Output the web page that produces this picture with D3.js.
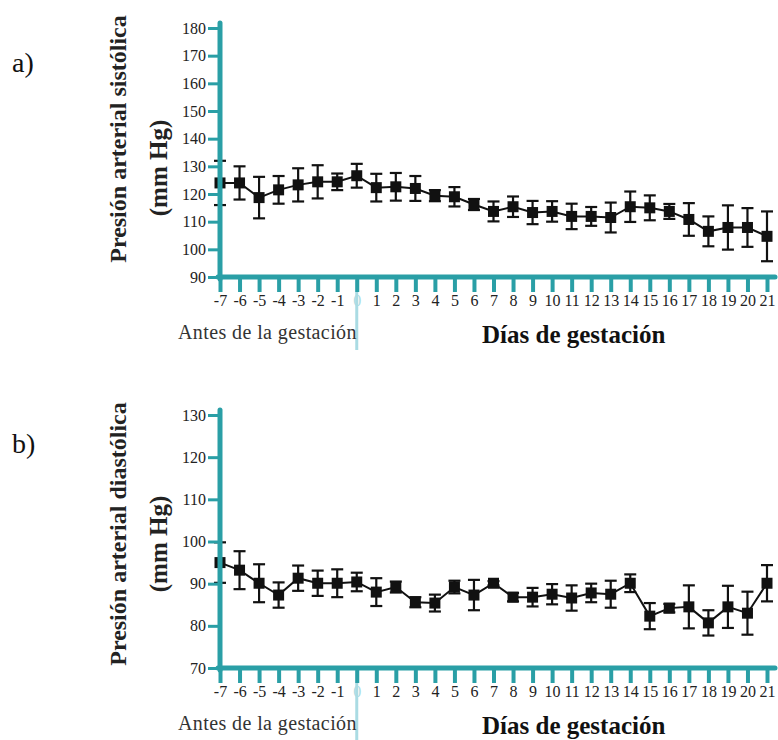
<!DOCTYPE html>
<html>
<head>
<meta charset="utf-8">
<script src="https://cdn.jsdelivr.net/npm/d3@7"></script>
<style>
  body { margin: 0; background: #fff; }
  svg text { font-family: "Liberation Serif", "DejaVu Serif", serif; }
</style>
</head>
<body>
<script>
// Days (x categories)
const days = [-7,-6,-5,-4,-3,-2,-1,0,1,2,3,4,5,6,7,8,9,10,11,12,13,14,15,16,17,18,19,20,21];

// a) systolic pressure, mean and error
const sysMean = [124,124,118.7,121.5,123.3,124.4,124.4,126.6,122.3,122.6,122,119.4,119,116.2,
                 113.7,115.4,113.3,113.7,111.9,111.9,111.5,115.4,115,113.7,110.8,106.5,107.9,107.9,104.7];
const sysErr  = [8,6,7.5,5,6,6,3,4.3,5,5,4.5,2,3.5,2,3.6,3.7,4.2,3.7,4.6,3.4,5.4,5.5,4.5,2.7,5.9,5.4,8,7,9];
const sysTicks = [90,100,110,120,130,140,150,160,170,180];

// b) diastolic pressure, mean and error
const diaMean = [95,93.2,90.1,87.3,91.3,90.1,90.1,90.4,88,89.2,85.6,85.4,89.2,87.3,
                 90.1,86.8,86.8,87.5,86.6,87.8,87.5,90.1,82.3,84.2,84.5,80.7,84.5,83,90.1];
const diaErr  = [4.8,4.5,4.5,3,3,3,3.3,2.2,3.3,1.3,1.2,2,1.5,3.6,0.5,1,2.2,2.4,3,2.2,3.2,2.1,3.1,1,5.1,3,5,5.1,4.3];
const diaTicks = [70,80,90,100,110,120,130];

const teal = "#2a9fa6";
const paleTeal = "#aadbe3";
const serif = "Liberation Serif, DejaVu Serif, serif";

const svg = d3.select("body").append("svg")
    .attr("width",778)
    .attr("height",740);

const xScale = d3.scaleLinear()
    .domain([-7,21])
    .range([220,767]);

//Draw one panel
function panel(opt){
    const g = svg.append("g");
    const yScale = d3.scaleLinear()
        .domain(d3.extent(opt.ticks))
        .range([opt.bottom, opt.top]);

    const data = days.map((d,i) => ({day:d, mean:opt.mean[i], err:opt.err[i]}));

    // pale marker line at day 0
    g.append("line")
        .attr("x1",xScale(0)).attr("x2",xScale(0))
        .attr("y1",opt.bottom+3).attr("y2",opt.bottom+73)
        .style("stroke",paleTeal)
        .style("stroke-width",3);

    // connecting line
    g.append("path")
        .datum(data)
        .attr("d",d3.line().x(d => xScale(d.day)).y(d => yScale(d.mean)))
        .style("fill","none")
        .style("stroke","#111")
        .style("stroke-width",2);

    // error bars
    const eb = g.selectAll(".eb").data(data).enter().append("g").attr("class","eb")
        .style("stroke","#111").style("stroke-width",2.2);
    eb.append("line")
        .attr("x1",d => xScale(d.day)).attr("x2",d => xScale(d.day))
        .attr("y1",d => yScale(d.mean - d.err)).attr("y2",d => yScale(d.mean + d.err));
    eb.append("line")
        .attr("x1",d => xScale(d.day)-6).attr("x2",d => xScale(d.day)+6)
        .attr("y1",d => yScale(d.mean + d.err)).attr("y2",d => yScale(d.mean + d.err));
    eb.append("line")
        .attr("x1",d => xScale(d.day)-6).attr("x2",d => xScale(d.day)+6)
        .attr("y1",d => yScale(d.mean - d.err)).attr("y2",d => yScale(d.mean - d.err));

    // square markers
    g.selectAll(".dot").data(data).enter().append("rect")
        .attr("class","dot")
        .attr("x",d => xScale(d.day)-5.5)
        .attr("y",d => yScale(d.mean)-5.5)
        .attr("width",11).attr("height",11)
        .style("fill","#111");

    // y axis ticks
    const ya = g.append("g")
        .attr("transform",`translate(220,0)`)
        .call(d3.axisLeft(yScale).tickValues(opt.ticks).tickSize(12).tickPadding(2).tickSizeOuter(0));
    ya.attr("font-family",serif).attr("font-size",16);
    ya.select(".domain").remove();
    ya.selectAll(".tick line").style("stroke",teal).style("stroke-width",3);
    ya.selectAll(".tick text").attr("fill","#222");

    // x axis ticks
    const xa = g.append("g")
        .attr("transform",`translate(0,${opt.bottom})`)
        .call(d3.axisBottom(xScale).tickValues(days).tickFormat(d => String(d))
            .tickSize(15).tickPadding(3).tickSizeOuter(0));
    xa.attr("font-family",serif).attr("font-size",16);
    xa.select(".domain").remove();
    xa.selectAll(".tick line").style("stroke",teal).style("stroke-width",4);
    xa.selectAll(".tick text").attr("fill",d => d === 0 ? paleTeal : "#222");

    // thick axis lines
    g.append("line")
        .attr("x1",220).attr("x2",220)
        .attr("y1",opt.top-5).attr("y2",opt.bottom+2)
        .style("stroke",teal).style("stroke-width",5).style("stroke-linecap","round");
    g.append("line")
        .attr("x1",218).attr("x2",775)
        .attr("y1",opt.bottom).attr("y2",opt.bottom)
        .style("stroke",teal).style("stroke-width",5).style("stroke-linecap","round");

    // y axis title
    g.append("text")
        .attr("transform",`translate(126,${opt.titleY}) rotate(-90)`)
        .style("text-anchor","middle")
        .style("font-weight","bold")
        .style("font-size","24px")
        .style("fill","#222")
        .text(opt.title);
    g.append("text")
        .attr("transform",`translate(167,${opt.unitY}) rotate(-90)`)
        .style("text-anchor","middle")
        .style("font-weight","bold")
        .style("font-size","25px")
        .style("fill","#222")
        .text("(mm Hg)");

    // panel letter
    g.append("text")
        .attr("x",12).attr("y",opt.letterY)
        .style("font-size","28px")
        .style("fill","#111")
        .text(opt.letter);

    // bottom labels
    g.append("text")
        .attr("x",178).attr("y",opt.bottom+62)
        .style("font-size","20px")
        .style("letter-spacing","0.4px")
        .style("fill","#333")
        .text("Antes de la gestación");
    g.append("text")
        .attr("x",482).attr("y",opt.bottom+66)
        .style("font-size","25px")
        .style("font-weight","bold")
        .style("fill","#111")
        .text("Días de gestación");
}

panel({mean:sysMean, err:sysErr, ticks:sysTicks, top:28, bottom:277,
       title:"Presión arterial sistólica", titleY:139, unitY:168, letter:"a)", letterY:72});
panel({mean:diaMean, err:diaErr, ticks:diaTicks, top:415, bottom:668,
       title:"Presión arterial diastólica", titleY:534, unitY:544, letter:"b)", letterY:453});
</script>
</body>
</html>
